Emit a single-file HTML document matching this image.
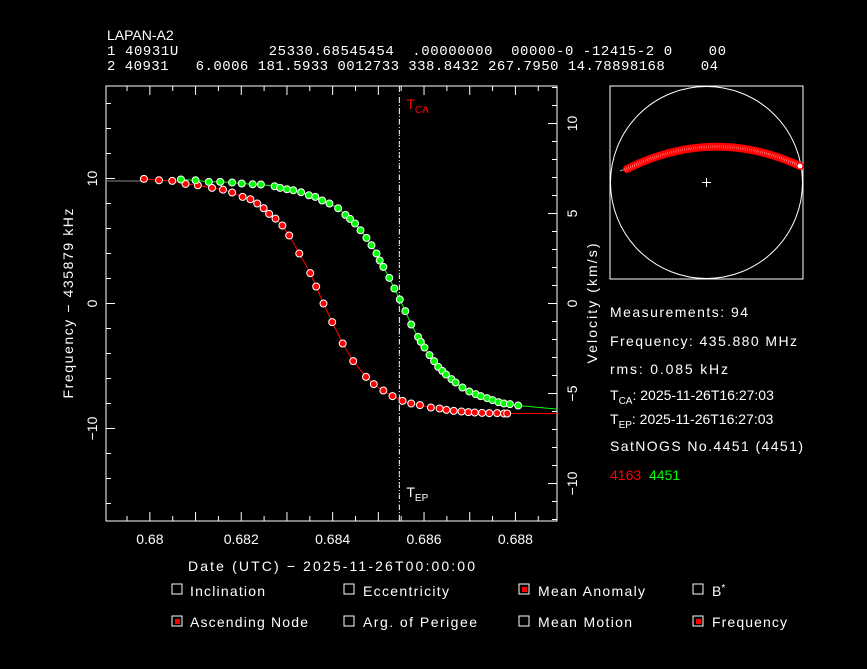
<!DOCTYPE html>
<html><head><meta charset="utf-8"><style>
html,body{margin:0;padding:0;background:#000;}
svg{display:block;}
text{font-family:"Liberation Sans","DejaVu Sans",sans-serif;fill:#fff;font-size:14px;}
.mono{font-family:"Liberation Mono",monospace;}
</style></head><body>
<svg id="chart" width="867" height="669" viewBox="0 0 867 669" xmlns="http://www.w3.org/2000/svg">
<rect width="867" height="669" fill="#000"/>
<g>
<text x="107" y="40">LAPAN-A2</text>
<text x="107" y="55" class="mono" xml:space="preserve" textLength="619">1 40931U          25330.68545454  .00000000  00000-0 -12415-2 0    00</text>
<text x="107" y="70" class="mono" xml:space="preserve" textLength="611">2 40931   6.0006 181.5933 0012733 338.8432 267.7950 14.78898168    04</text>
</g>
<g id="plot"></g>
<g id="sky"></g>
<g>
<text x="610" y="317" textLength="138">Measurements: 94</text>
<text x="610" y="346" textLength="187">Frequency: 435.880 MHz</text>
<text x="610" y="374" textLength="118">rms: 0.085 kHz</text>
<text x="610" y="400" font-size="15">T<tspan font-size="10" dy="4">CA</tspan><tspan dy="-4">: 2025-11-26T16:27:03</tspan></text>
<text x="610" y="424" font-size="15">T<tspan font-size="10" dy="4">EP</tspan><tspan dy="-4">: 2025-11-26T16:27:03</tspan></text>
<text x="610" y="451" textLength="193">SatNOGS No.4451 (4451)</text>
<text x="610" y="480" style="fill:#f00">4163</text>
<text x="649" y="480" style="fill:#0f0">4451</text>
</g>
<text x="188" y="571" textLength="287">Date (UTC) − 2025-11-26T00:00:00</text>
<g>
<rect x="172" y="584" width="10" height="10" fill="none" stroke="#fff"/>
<text x="190" y="596" textLength="75">Inclination</text>
<rect x="344" y="584" width="10" height="10" fill="none" stroke="#fff"/>
<text x="363" y="596" textLength="86">Eccentricity</text>
<rect x="519" y="584" width="10" height="10" fill="none" stroke="#fff"/>
<rect x="522" y="587" width="5" height="5" fill="#f00"/>
<text x="538" y="596" textLength="107">Mean Anomaly</text>
<rect x="693" y="584" width="10" height="10" fill="none" stroke="#fff"/>
<text x="712" y="596">B<tspan font-size="10" dy="-5">*</tspan></text>
<rect x="172" y="616" width="10" height="10" fill="none" stroke="#fff"/>
<rect x="175" y="619" width="5" height="5" fill="#f00"/>
<text x="190" y="627" textLength="118">Ascending Node</text>
<rect x="344" y="616" width="10" height="10" fill="none" stroke="#fff"/>
<text x="363" y="627" textLength="114">Arg. of Perigee</text>
<rect x="519" y="616" width="10" height="10" fill="none" stroke="#fff"/>
<text x="538" y="627" textLength="94">Mean Motion</text>
<rect x="693" y="616" width="10" height="10" fill="none" stroke="#fff"/>
<rect x="696" y="619" width="5" height="5" fill="#f00"/>
<text x="712" y="627" textLength="75">Frequency</text>
</g>
</svg>
<script>
const xTicks=[0.680,0.682,0.684,0.686,0.688];
const xTickLabels=["0.68","0.682","0.684","0.686","0.688"];
const fTicks=[10,0,-10];
const fTickLabels=["10","0","\u221210"];
const vTicks=[10,5,0,-5,-10];
const vTickLabels=["10","5","0","\u22125","\u221210"];
const tca=0.68546;
const redT=[0.67987,0.68020,0.68049,0.68078,0.68105,0.68136,0.68160,0.68180,0.68203,0.68220,0.68235,0.68249,0.68261,0.68275,0.68290,0.68305,0.68327,0.68351,0.68364,0.68380,0.68399,0.68422,0.68445,0.68473,0.68490,0.68511,0.68531,0.68553,0.68572,0.68591,0.68615,0.68634,0.68649,0.68665,0.68682,0.68697,0.68711,0.68727,0.68743,0.68760,0.68775,0.68782];
const redF=[9.97,9.86,9.81,9.57,9.46,9.25,9.11,8.88,8.53,8.34,8.00,7.62,7.17,6.79,6.24,5.44,4.0,2.43,1.36,0.0,-1.49,-3.20,-4.61,-5.87,-6.45,-6.96,-7.41,-7.79,-8.0,-8.13,-8.32,-8.40,-8.51,-8.59,-8.64,-8.69,-8.72,-8.75,-8.77,-8.77,-8.80,-8.80];
const greenT=[0.68068,0.68100,0.68129,0.68154,0.68180,0.68201,0.68225,0.68243,0.68273,0.68285,0.68300,0.68314,0.68331,0.68348,0.68362,0.68377,0.68393,0.68412,0.68428,0.68438,0.68449,0.68461,0.68474,0.68485,0.68496,0.68503,0.68511,0.68524,0.68535,0.68547,0.68559,0.68572,0.68587,0.68593,0.68601,0.68612,0.68622,0.68631,0.68640,0.68648,0.68660,0.68669,0.68684,0.68699,0.68713,0.68724,0.68738,0.68750,0.68763,0.68775,0.68788,0.68806];
const greenF=[9.92,9.86,9.73,9.73,9.68,9.60,9.54,9.52,9.38,9.25,9.14,9.06,8.90,8.66,8.53,8.24,8.0,7.62,7.09,6.77,6.40,5.86,5.25,4.66,4.0,3.44,2.93,2.05,1.20,0.32,-0.61,-1.68,-2.67,-3.07,-3.52,-4.13,-4.61,-5.07,-5.39,-5.68,-6.05,-6.32,-6.72,-7.04,-7.25,-7.41,-7.57,-7.73,-7.89,-8.0,-8.05,-8.16];
const redEnds=[9.80,-8.80];
const greenEnds=[-8.45];

const NS="http://www.w3.org/2000/svg";
const L=106,R=557,T=86,B=521;
const xMin=0.67904,xMax=0.68891,fMin=-17.4,fMax=17.4;
const X=v=>L+(v-xMin)/(xMax-xMin)*(R-L);
const Y=f=>B-(f-fMin)/(fMax-fMin)*(B-T);
const YV=v=>Y(0)-v*18;
function mk(tag,attrs,parent){const e=document.createElementNS(NS,tag);for(const k in attrs)e.setAttribute(k,attrs[k]);parent.appendChild(e);return e;}
const plot=document.getElementById('plot');


const frame=mk('rect',{x:L,y:T,width:R-L,height:B-T,fill:'none',stroke:'#fff','stroke-width':1},plot);


for(let k=0;k<20;k++){const v=0.6795+k*0.0005;const x=X(v);if(x<L||x>R)continue;const major=(k%2===1);const len=major?9:5;mk('line',{x1:x,y1:B,x2:x,y2:B-len,stroke:'#fff'},plot);mk('line',{x1:x,y1:T,x2:x,y2:T+len,stroke:'#fff'},plot);}
xTicks.forEach((v,i)=>{const t=mk('text',{x:X(v),y:B+23,'text-anchor':'middle'},plot);t.textContent=xTickLabels[i];

});
for(let f=-16;f<=16;f+=2){const y=Y(f);const len=(f%10===0)?9:5;mk('line',{x1:L,y1:y,x2:L+len,y2:y,stroke:'#fff'},plot);}
fTicks.forEach((f,i)=>{const y=Y(f);const t=mk('text',{x:0,y:0,'text-anchor':'middle',transform:`translate(97,${y}) rotate(-90)`},plot);t.textContent=fTickLabels[i];

});
for(let v=-12;v<=12;v++){const y=YV(v);if(y<T||y>B)continue;const len=(v%5===0)?9:5;mk('line',{x1:R,y1:y,x2:R-len,y2:y,stroke:'#fff'},plot);}
vTicks.forEach((v,i)=>{const y=YV(v);const t=mk('text',{x:0,y:0,'text-anchor':'middle',transform:`translate(577,${y}) rotate(-90)`},plot);t.textContent=vTickLabels[i];

});
const yt=mk('text',{x:0,y:0,'text-anchor':'middle',textLength:'190',transform:`translate(73,${Y(0)}) rotate(-90)`},plot);yt.textContent='Frequency \u2212 435879 kHz';


const vt=mk('text',{x:0,y:0,'text-anchor':'middle',textLength:'120',transform:`translate(597,${Y(0)}) rotate(-90)`},plot);vt.textContent='Velocity (km/s)';


const tl=mk('line',{x1:X(tca),y1:T,x2:X(tca),y2:B,stroke:'#fff','stroke-dasharray':'6,2,1,2'},plot);


mk('line',{x1:X(tca),y1:T,x2:X(tca),y2:B,stroke:'#f00','stroke-dasharray':'1,9','stroke-dashoffset':'-8'},plot);
const tcaT=mk('text',{x:X(tca)+7,y:T+23,style:'fill:#f00'},plot);tcaT.innerHTML='T<tspan font-size="10" dy="4">CA</tspan>';


const tepT=mk('text',{x:X(tca)+7,y:B-24},plot);tepT.innerHTML='T<tspan font-size="10" dy="4">EP</tspan>';


mk('line',{x1:L,y1:Y(redEnds[0]),x2:X(redT[0]),y2:Y(redEnds[0]),stroke:'#888'},plot);
let rp=`M${X(redT[0])},${Y(redEnds[0])}`;redT.forEach((t,i)=>rp+=` L${X(t)},${Y(redF[i])}`);rp+=` L${R},${Y(redEnds[1])}`;
const rc=mk('path',{d:rp,fill:'none',stroke:'#f00'},plot);


let gp=`M${X(greenT[0])},${Y(greenF[0])}`;greenT.forEach((t,i)=>gp+=` L${X(t)},${Y(greenF[i])}`);gp+=` L${R},${Y(greenEnds[0])}`;
const gc=mk('path',{d:gp,fill:'none',stroke:'#0f0'},plot);


redT.forEach((t,i)=>{const c=mk('circle',{cx:X(t),cy:Y(redF[i]),r:3.5,fill:'#f00',stroke:'#fff','stroke-width':1},plot);

});
greenT.forEach((t,i)=>{const c=mk('circle',{cx:X(t),cy:Y(greenF[i]),r:3.5,fill:'#0f0',stroke:'#fff','stroke-width':1},plot);

});
const sky=document.getElementById('sky');


mk('rect',{x:610,y:86,width:193,height:193,fill:'none',stroke:'#fff'},sky);
mk('circle',{cx:706.5,cy:182.5,r:96,fill:'none',stroke:'#fff'},sky);
mk('path',{d:'M702,182.5h9M706.5,178v9',stroke:'#fff'},sky);
mk('path',{d:'M620,171 L628,168',stroke:'#aaa'},sky);
const n=94;
for(let i=0;i<n;i++){const s=i/(n-1);const x=627+s*173;const y=(1-s)*(1-s)*169+2*s*(1-s)*126+s*s*166;
const c=mk('circle',{cx:x,cy:y,r:3.2,fill:'#fff',stroke:'#f00','stroke-width':1.6},sky);

}
</script>
</body></html>
